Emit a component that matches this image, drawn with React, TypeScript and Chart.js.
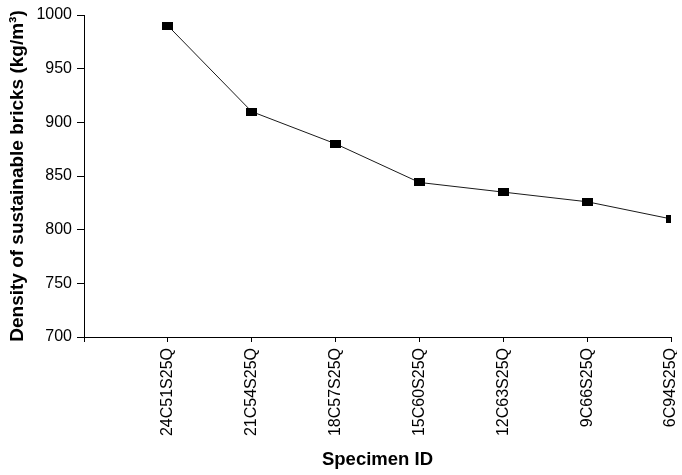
import React, { useEffect, useRef } from "react";
import { Chart, registerables } from "chart.js";

Chart.register(...registerables);

const categories = [
  "24C51S25Q",
  "21C54S25Q",
  "18C57S25Q",
  "15C60S25Q",
  "12C63S25Q",
  "9C66S25Q",
  "6C94S25Q",
];
const density = [990, 910, 880, 844, 835, 826, 810];
const yMin = 700;
const yMax = 1000;
const yStep = 50;

const FONT = "'Liberation Sans', Arial, sans-serif";

function makeMarker() {
  const c = document.createElement("canvas");
  c.width = 11;
  c.height = 8;
  const ctx = c.getContext("2d")!;
  ctx.fillStyle = "#000";
  ctx.fillRect(0, 0, 11, 8);
  return c;
}

export default function App() {
  const ref = useRef<HTMLCanvasElement>(null);

  useEffect(() => {
    document.body.style.margin = "0";
    const canvas = ref.current!;
    const marker = makeMarker();
    const chart = new Chart(canvas, {
      type: "line",
      data: {
        datasets: [
          {
            data: density.map((v, i) => ({ x: i + 1, y: v })),
            borderColor: "#1a1a1a",
            borderWidth: 1,
            pointStyle: marker as any,
            pointRadius: 5,
            tension: 0,
            fill: false,
          },
        ],
      },
      options: {
        responsive: false,
        animation: false,
        devicePixelRatio: 1,
        layout: { padding: { top: 15, right: 3, left: 0, bottom: 0 } },
        plugins: {
          legend: { display: false },
          tooltip: { enabled: false },
        },
        scales: {
          x: {
            type: "linear",
            min: 0,
            max: 7,
            grid: {
              display: true,
              drawOnChartArea: false,
              drawTicks: true,
              tickLength: 5,
              tickColor: "#000",
              tickWidth: 1,
            },
            border: { display: true, color: "#000", width: 1 },
            ticks: {
              stepSize: 1,
              autoSkip: false,
              minRotation: 90,
              maxRotation: 90,
              padding: 6,
              color: "#000",
              font: { family: FONT, size: 16 },
              callback: (v: any) => {
                const i = Number(v);
                return i >= 1 && i <= categories.length ? categories[i - 1] : "";
              },
            },
            title: {
              display: true,
              text: "Specimen ID",
              color: "#000",
              font: { family: FONT, size: 18.5, weight: "bold" },
              padding: { top: 4, bottom: 4 },
            },
            afterFit: (s: any) => {
              s.height = 138;
              s.paddingLeft = 0;
              s.paddingRight = 0;
            },
          },
          y: {
            type: "linear",
            min: yMin,
            max: yMax,
            grid: {
              display: true,
              drawOnChartArea: false,
              drawTicks: true,
              tickLength: 7,
              tickColor: "#000",
              tickWidth: 1,
            },
            border: { display: true, color: "#000", width: 1 },
            ticks: {
              stepSize: yStep,
              padding: 5,
              color: "#000",
              font: { family: FONT, size: 16 },
              callback: (v: any) => String(v),
            },
            title: {
              display: true,
              text: "Density of sustainable bricks (kg/m³)",
              color: "#000",
              font: { family: FONT, size: 19, weight: "bold" },
              padding: { top: 6, bottom: 4 },
            },
            afterFit: (s: any) => {
              s.width = 84;
              s.paddingTop = 0;
              s.paddingBottom = 0;
            },
          },
        },
      },
    });
    return () => chart.destroy();
  }, []);

  return (
    <canvas
      ref={ref}
      width={677}
      height={475}
      style={{ display: "block", width: 677, height: 475 }}
    />
  );
}
